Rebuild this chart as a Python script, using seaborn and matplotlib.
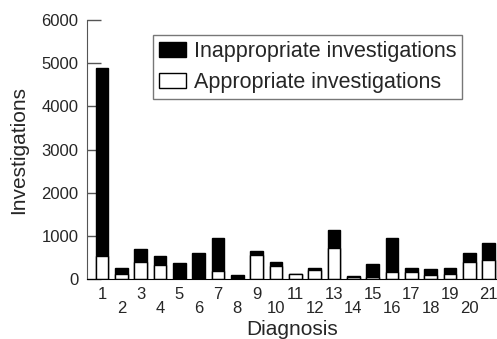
import matplotlib
matplotlib.use("Agg")
import matplotlib.pyplot as plt
import seaborn as sns
import pandas as pd
from matplotlib.patches import Patch

diagnoses = [str(i) for i in range(1, 22)]
total = [4880, 255, 690, 550, 370, 600, 950, 100, 660, 400, 115,
         270, 1150, 80, 355, 960, 255, 235, 255, 600, 840]
appropriate = [540, 125, 405, 330, 0, 0, 200, 0, 565, 315, 115,
               225, 730, 50, 55, 175, 160, 100, 130, 395, 440]
legend_labels = ["Inappropriate investigations", "Appropriate investigations"]

df = pd.DataFrame({"Diagnosis": diagnoses, "Total": total, "Appropriate": appropriate})

sns.set_style("ticks")
plt.rcParams["font.family"] = ["Liberation Sans", "DejaVu Sans"]

fig = plt.figure(figsize=(4.97, 3.39), dpi=100)
ax = fig.add_axes([87.3 / 497, 1 - 279.3 / 339, 1 - 87.3 / 497, 259.3 / 339])

sns.barplot(data=df, x="Diagnosis", y="Total", order=diagnoses, color="black",
            edgecolor="black", linewidth=1, width=0.65, saturation=1, ax=ax)
sns.barplot(data=df, x="Diagnosis", y="Appropriate", order=diagnoses, color="white",
            edgecolor="black", linewidth=1, width=0.65, saturation=1, ax=ax)

ax.set_xlim(-0.76, 20.43)
ax.set_ylim(0, 6000)
ax.set_yticks([0, 1000, 2000, 3000, 4000, 5000, 6000])
sns.despine(ax=ax)
ax.spines["left"].set_color("#555555")
ax.spines["bottom"].set_color("black")
ax.spines["left"].set_bounds(0, 6000)

ax.tick_params(axis="y", direction="in", length=10, width=1, color="#555555",
               labelsize=12, pad=6.5)
ax.tick_params(axis="x", length=0, labelsize=12)
for i, tick in enumerate(ax.xaxis.get_major_ticks()):
    tick.set_pad(5.8 if i % 2 == 0 else 15.5)

ax.set_xlabel("Diagnosis", fontsize=15)
ax.set_ylabel("Investigations", fontsize=15)
ax.xaxis.set_label_coords(0.5, -0.158)
ax.yaxis.set_label_coords(-0.145, 0.5)

handles = [Patch(facecolor="black", edgecolor="black"),
           Patch(facecolor="white", edgecolor="black")]
leg = fig.legend(handles, legend_labels, loc="upper left",
                 bbox_to_anchor=(153 / 497, 1 - 35 / 339), fontsize=15.5,
                 frameon=True, fancybox=False, edgecolor="#555555",
                 handlelength=1.23, handleheight=0.7, handletextpad=0.39,
                 labelspacing=0.45, borderpad=0.28, borderaxespad=0)
leg.get_frame().set_linewidth(1)

fig.savefig("out.png", dpi=100)
